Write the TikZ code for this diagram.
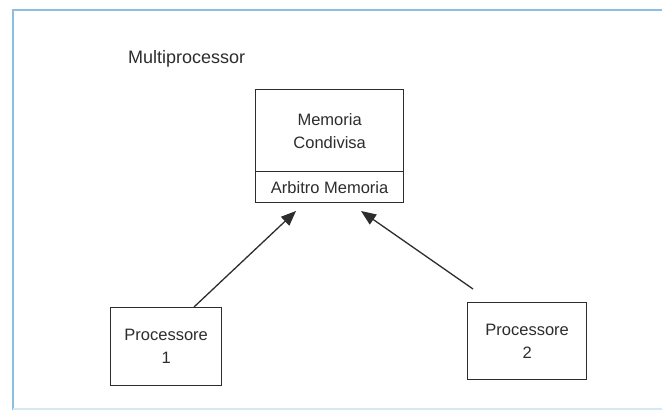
\documentclass[tikz,border=0pt]{standalone}
\usepackage{fontspec}
\setmainfont{Liberation Sans}
\usetikzlibrary{arrows.meta,calc}
\definecolor{ink}{RGB}{45,45,45}
\definecolor{frameblue}{RGB}{140,190,225}
\definecolor{framepale}{RGB}{215,232,245}
\begin{document}
\begin{tikzpicture}[x=1pt,y=-1pt,
  box/.style={draw=ink,line width=1.3pt,text=ink,font=\fontsize{16.5}{23}\selectfont,align=center,inner sep=0pt,anchor=north west},
  arr/.style={draw=ink,line width=1.3pt,-{Triangle[length=15pt,width=12pt]}}]
\useasboundingbox (0,0) rectangle (662,411);
\fill[white] (0,0) rectangle (662,411);
% frame
\draw[frameblue,line width=1.6pt] (13,410) -- (13,10) -- (662,10);
\draw[framepale,line width=1.6pt] (13,409) -- (662,409);
% title
\node[anchor=base west,inner sep=0pt,text=ink,font=\fontsize{18}{22}\selectfont] (title) at (128,63.5) {Multiprocessor};
% memory
\node[box,minimum width=148pt,minimum height=82pt] (mem) at (255,89) {Memoria\\Condivisa};
\node[box,minimum width=148pt,minimum height=31pt] (arb) at (255,171) {Arbitro Memoria};
% processors
\node[box,minimum width=111pt,minimum height=78pt] (p1) at (110,307) {Processore\\1};
\node[box,minimum width=119pt,minimum height=77pt] (p2) at (467,302) {Processore\\2};
% connectors
\coordinate (s1) at (194,307);
\coordinate (t1) at (296,211);
\coordinate (s2) at (473,289);
\coordinate (t2) at (361,211);
\draw[arr] (s1) -- (t1);
\draw[arr] (s2) -- (t2);
\end{tikzpicture}
\end{document}
